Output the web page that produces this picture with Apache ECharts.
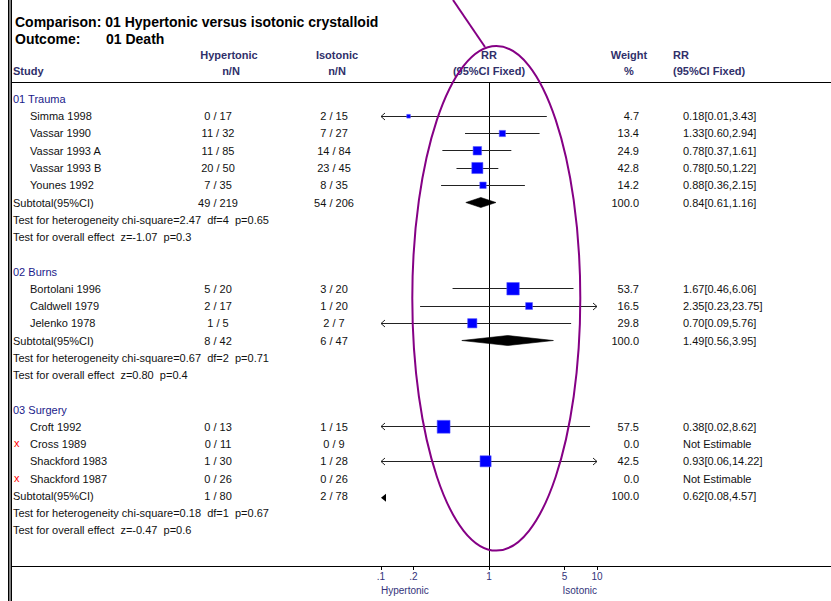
<!DOCTYPE html>
<html><head><meta charset="utf-8">
<script src="https://cdn.jsdelivr.net/npm/echarts@6/dist/echarts.min.js"></script>
<style>html,body{margin:0;padding:0;background:#fff}#c{width:831px;height:601px}</style>
</head><body><div id="c"></div>
<script>
// ---------------- data ----------------
const groupNames = ['01 Trauma', '02 Burns', '03 Surgery'];
const studyNames = ['Simma 1998', 'Vassar 1990', 'Vassar 1993 A', 'Vassar 1993 B', 'Younes 1992',
  'Bortolani 1996', 'Caldwell 1979', 'Jelenko 1978',
  'Croft 1992', 'Cross 1989', 'Shackford 1983', 'Shackford 1987'];
const studyGroup = [0, 0, 0, 0, 0, 1, 1, 1, 2, 2, 2, 2];
const hyperEvents = [0, 11, 11, 20, 7, 5, 2, 1, 0, 0, 1, 0];
const hyperTotals = [17, 32, 85, 50, 35, 20, 17, 5, 13, 11, 30, 26];
const isoEvents = [2, 7, 14, 23, 8, 3, 1, 2, 1, 0, 1, 0];
const isoTotals = [15, 27, 84, 45, 35, 20, 20, 7, 15, 9, 28, 26];
const weights = [4.7, 13.4, 24.9, 42.8, 14.2, 53.7, 16.5, 29.8, 57.5, 0.0, 42.5, 0.0];
const rrEst = [0.18, 1.33, 0.78, 0.78, 0.88, 1.67, 2.35, 0.70, 0.38, null, 0.93, null];
const rrLow = [0.01, 0.60, 0.37, 0.50, 0.36, 0.46, 0.23, 0.09, 0.02, null, 0.06, null];
const rrHigh = [3.43, 2.94, 1.61, 1.22, 2.15, 6.06, 23.75, 5.76, 8.62, null, 14.22, null];

const subHyperEvents = [49, 8, 1];
const subHyperTotals = [219, 42, 80];
const subIsoEvents = [54, 6, 2];
const subIsoTotals = [206, 47, 78];
const subWeights = [100.0, 100.0, 100.0];
const subEst = [0.84, 1.49, 0.62];
const subLow = [0.61, 0.56, 0.08];
const subHigh = [1.16, 3.95, 4.57];
const hetChi = ['2.47', '0.67', '0.18'];
const hetDf = [4, 2, 1];
const hetP = ['0.65', '0.71', '0.67'];
const effZ = ['-1.07', '0.80', '-0.47'];
const effP = ['0.3', '0.4', '0.6'];

const tickValues = [0.1, 0.2, 1, 5, 10];
const tickLabels = ['.1', '.2', '1', '5', '10'];

// ---------------- layout ----------------
const FONT = '"Liberation Sans", Arial, sans-serif';
const BODY = '11px ' + FONT;
const HEAD = 'bold 11px ' + FONT;
const HEAD_COLOR = '#30306a';
const GROUP_COLOR = '#1a1a8a';
const X_MIN = Math.log10(0.1), X_MAX = Math.log10(10);
const Y_MIN = -0.985, Y_MAX = 27.07;
const COL_HYPER = 218, COL_ISO = 334, COL_WEIGHT = 639, COL_RR = 683;

// build table rows
const rows = [];
let r = 0;
groupNames.forEach((g, gi) => {
  rows.push({ kind: 'group', row: r++, gi });
  studyNames.forEach((s, i) => { if (studyGroup[i] === gi) rows.push({ kind: 'study', row: r++, i, gi }); });
  rows.push({ kind: 'sub', row: r++, gi });
  rows.push({ kind: 'het', row: r++, gi });
  rows.push({ kind: 'eff', row: r++, gi });
  r++;
});

const fmtRR = (e, l, h) => e == null ? 'Not Estimable' : e.toFixed(2) + '[' + l.toFixed(2) + ',' + h.toFixed(2) + ']';

function txt(x, y, text, extra) {
  return {
    type: 'text',
    style: Object.assign({ x, y, text, font: BODY, fill: '#111', align: 'left', verticalAlign: 'middle', textAlign: 'left', textVerticalAlign: 'middle' }, extra || {})
  };
}
function mid(a) { return { align: a, textAlign: a }; }

function renderText(params, api) {
  const row = rows[params.dataIndex];
  const y = api.coord([0, row.row])[1];
  const c = [];
  if (row.kind === 'group') {
    c.push(txt(13, y, groupNames[row.gi], { fill: GROUP_COLOR }));
  } else if (row.kind === 'study') {
    const i = row.i;
    if (rrEst[i] == null) c.push(txt(14, y - 1, 'x', { fill: '#ff0000' }));
    c.push(txt(30, y, studyNames[i]));
    c.push(txt(COL_HYPER, y, hyperEvents[i] + ' / ' + hyperTotals[i], mid('center')));
    c.push(txt(COL_ISO, y, isoEvents[i] + ' / ' + isoTotals[i], mid('center')));
    c.push(txt(COL_WEIGHT, y, weights[i].toFixed(1), mid('right')));
    c.push(txt(COL_RR, y, fmtRR(rrEst[i], rrLow[i], rrHigh[i])));
  } else if (row.kind === 'sub') {
    const g = row.gi;
    c.push(txt(13, y, 'Subtotal(95%CI)'));
    c.push(txt(COL_HYPER, y, subHyperEvents[g] + ' / ' + subHyperTotals[g], mid('center')));
    c.push(txt(COL_ISO, y, subIsoEvents[g] + ' / ' + subIsoTotals[g], mid('center')));
    c.push(txt(COL_WEIGHT, y, subWeights[g].toFixed(1), mid('right')));
    c.push(txt(COL_RR, y, fmtRR(subEst[g], subLow[g], subHigh[g])));
  } else if (row.kind === 'het') {
    const g = row.gi;
    c.push(txt(13, y, 'Test for heterogeneity chi-square=' + hetChi[g] + '  df=' + hetDf[g] + '  p=' + hetP[g]));
  } else if (row.kind === 'eff') {
    const g = row.gi;
    c.push(txt(13, y, 'Test for overall effect  z=' + effZ[g] + '  p=' + effP[g]));
  }
  return { type: 'group', children: c };
}

function crisp(v) { return Math.round(v - 0.5) + 0.5; }

function renderMarks(params, api) {
  const row = rows[params.dataIndex];
  const y = api.coord([0, row.row])[1];
  const xMinPx = api.coord([X_MIN, 0])[0];
  const xMaxPx = api.coord([X_MAX, 0])[0];
  const c = [];
  if (row.kind === 'study') {
    const i = row.i;
    if (rrEst[i] == null) return { type: 'group', children: [] };
    let x1 = api.coord([Math.log10(rrLow[i]), 0])[0];
    let x2 = api.coord([Math.log10(rrHigh[i]), 0])[0];
    const xe = api.coord([Math.log10(rrEst[i]), 0])[0];
    const cy = crisp(y);
    const lineStyle = { stroke: '#222', lineWidth: 1, fill: null };
    const leftClip = x1 < xMinPx, rightClip = x2 > xMaxPx;
    x1 = Math.max(x1, xMinPx); x2 = Math.min(x2, xMaxPx);
    c.push({ type: 'line', shape: { x1, y1: cy, x2, y2: cy }, style: lineStyle });
    if (leftClip) c.push({ type: 'polyline', shape: { points: [[x1 + 4, cy - 3.5], [x1, cy], [x1 + 4, cy + 3.5]] }, style: lineStyle });
    if (rightClip) c.push({ type: 'polyline', shape: { points: [[x2 - 4, cy - 3.5], [x2, cy], [x2 - 4, cy + 3.5]] }, style: lineStyle });
    const s = 1.7 * Math.sqrt(weights[i]);
    c.push({ type: 'rect', shape: { x: xe - s / 2, y: y - s / 2, width: s, height: s }, style: { fill: '#0000ff', stroke: 'rgba(90,90,255,0.55)', lineWidth: 1 } });
  } else if (row.kind === 'sub') {
    const g = row.gi;
    const xl = api.coord([Math.log10(subLow[g]), 0])[0];
    const xh = api.coord([Math.log10(subHigh[g]), 0])[0];
    const xe = api.coord([Math.log10(subEst[g]), 0])[0];
    if (xl < xMinPx || xh > xMaxPx) {
      const yy = y + 2;
      c.push({ type: 'polygon', shape: { points: [[xMinPx, yy], [xMinPx + 5, yy - 4], [xMinPx + 5, yy + 4]] }, style: { fill: '#000' } });
    } else {
      c.push({ type: 'polygon', shape: { points: [[xl, y], [xe, y - 5], [xh, y], [xe, y + 5]] }, style: { fill: '#000', stroke: '#000', lineWidth: 0.6 } });
    }
  }
  return { type: 'group', children: c };
}

function renderRefLine(params, api) {
  const x = crisp(api.coord([0, 0])[0]);
  const yTop = api.coord([0, Y_MIN])[1];
  const yBot = api.coord([0, Y_MAX])[1];
  const xl = api.coord([X_MIN, 0])[0];
  const xr = api.coord([X_MAX, 0])[0];
  return {
    type: 'group', children: [
      { type: 'line', shape: { x1: x, y1: yTop, x2: x, y2: yBot }, style: { stroke: '#000', lineWidth: 1 } },
      txt(xl, yBot + 24, 'Hypertonic', { font: '10px ' + FONT, fill: '#33337a' }),
      txt(xr, yBot + 24, 'Isotonic', { font: '10px ' + FONT, fill: '#33337a', align: 'right', textAlign: 'right' })
    ]
  };
}

const chart = echarts.init(document.getElementById('c'), null, { renderer: 'svg' });
const tickLog = tickValues.map(v => Math.log10(v));
chart.setOption({
  animation: false,
  backgroundColor: '#fff',
  grid: { left: 381, right: 234, top: 82, bottom: 35, containLabel: false },
  xAxis: {
    type: 'value', min: X_MIN, max: X_MAX, position: 'bottom',
    axisLine: { show: false, onZero: false },
    splitLine: { show: false },
    axisTick: { show: true, customValues: tickLog, length: 4, lineStyle: { color: '#000', width: 1 } },
    axisLabel: {
      customValues: tickLog, margin: 5, color: '#33337a', fontSize: 10, fontFamily: FONT,
      formatter: v => {
        let best = 0;
        tickLog.forEach((t, k) => { if (Math.abs(t - v) < Math.abs(tickLog[best] - v)) best = k; });
        return tickLabels[best];
      }
    }
  },
  yAxis: {
    type: 'value', inverse: true, min: Y_MIN, max: Y_MAX,
    axisLine: { show: false, onZero: false }, axisTick: { show: false }, axisLabel: { show: false }, splitLine: { show: false }
  },
  series: [
    { type: 'custom', name: 'ref', renderItem: renderRefLine, data: [[0, 0]], silent: true, z: 1 },
    { type: 'custom', name: 'marks', renderItem: renderMarks, data: rows.map(o => [0, o.row]), silent: true, z: 3 },
    { type: 'custom', name: 'text', renderItem: renderText, data: rows.map(o => [0, o.row]), silent: true, z: 4 }
  ],
  graphic: [
    { type: 'rect', shape: { x: 8, y: 0, width: 4, height: 601 }, style: { fill: '#808080' }, z: 10 },
    { type: 'line', shape: { x1: 8.5, y1: 0, x2: 8.5, y2: 601 }, style: { stroke: '#000', lineWidth: 1 }, z: 11 },
    { type: 'line', shape: { x1: 11.5, y1: 0, x2: 11.5, y2: 601 }, style: { stroke: '#000', lineWidth: 1 }, z: 11 },
    { type: 'line', shape: { x1: 12, y1: 82.5, x2: 831, y2: 82.5 }, style: { stroke: '#000', lineWidth: 1 }, z: 5 },
    { type: 'line', shape: { x1: 12, y1: 566.5, x2: 831, y2: 566.5 }, style: { stroke: '#000', lineWidth: 1 }, z: 5 },
    { type: 'text', style: { x: 15, y: 22, text: 'Comparison: 01 Hypertonic versus isotonic crystalloid', font: 'bold 14px ' + FONT, fill: '#000', textVerticalAlign: 'middle', verticalAlign: 'middle' }, z: 6 },
    { type: 'text', style: { x: 15, y: 39, text: 'Outcome:', font: 'bold 14px ' + FONT, fill: '#000', textVerticalAlign: 'middle', verticalAlign: 'middle' }, z: 6 },
    { type: 'text', style: { x: 106, y: 39, text: '01 Death', font: 'bold 14px ' + FONT, fill: '#000', textVerticalAlign: 'middle', verticalAlign: 'middle' }, z: 6 },
    { type: 'text', style: { x: 13, y: 71, text: 'Study', font: HEAD, fill: HEAD_COLOR, textVerticalAlign: 'middle', verticalAlign: 'middle' }, z: 6 },
    { type: 'text', style: { x: 229, y: 55, text: 'Hypertonic', font: HEAD, fill: HEAD_COLOR, textAlign: 'center', align: 'center', textVerticalAlign: 'middle', verticalAlign: 'middle' }, z: 6 },
    { type: 'text', style: { x: 231, y: 71, text: 'n/N', font: HEAD, fill: HEAD_COLOR, textAlign: 'center', align: 'center', textVerticalAlign: 'middle', verticalAlign: 'middle' }, z: 6 },
    { type: 'text', style: { x: 337, y: 55, text: 'Isotonic', font: HEAD, fill: HEAD_COLOR, textAlign: 'center', align: 'center', textVerticalAlign: 'middle', verticalAlign: 'middle' }, z: 6 },
    { type: 'text', style: { x: 337, y: 71, text: 'n/N', font: HEAD, fill: HEAD_COLOR, textAlign: 'center', align: 'center', textVerticalAlign: 'middle', verticalAlign: 'middle' }, z: 6 },
    { type: 'text', style: { x: 489, y: 55, text: 'RR', font: HEAD, fill: HEAD_COLOR, textAlign: 'center', align: 'center', textVerticalAlign: 'middle', verticalAlign: 'middle' }, z: 6 },
    { type: 'text', style: { x: 489, y: 71, text: '(95%CI Fixed)', font: HEAD, fill: HEAD_COLOR, textAlign: 'center', align: 'center', textVerticalAlign: 'middle', verticalAlign: 'middle' }, z: 6 },
    { type: 'text', style: { x: 629, y: 55, text: 'Weight', font: HEAD, fill: HEAD_COLOR, textAlign: 'center', align: 'center', textVerticalAlign: 'middle', verticalAlign: 'middle' }, z: 6 },
    { type: 'text', style: { x: 629, y: 71, text: '%', font: HEAD, fill: HEAD_COLOR, textAlign: 'center', align: 'center', textVerticalAlign: 'middle', verticalAlign: 'middle' }, z: 6 },
    { type: 'text', style: { x: 673, y: 55, text: 'RR', font: HEAD, fill: HEAD_COLOR, textVerticalAlign: 'middle', verticalAlign: 'middle' }, z: 6 },
    { type: 'text', style: { x: 673, y: 71, text: '(95%CI Fixed)', font: HEAD, fill: HEAD_COLOR, textVerticalAlign: 'middle', verticalAlign: 'middle' }, z: 6 },
    { type: 'ellipse', shape: { cx: 496.3, cy: 298.3, rx: 84, ry: 252.3 }, style: { fill: null, stroke: '#850085', lineWidth: 2 }, z: 20 },
    { type: 'line', shape: { x1: 453, y1: 0, x2: 485, y2: 47 }, style: { stroke: '#850085', lineWidth: 2 }, z: 20 }
  ]
});
</script>
</body></html>
